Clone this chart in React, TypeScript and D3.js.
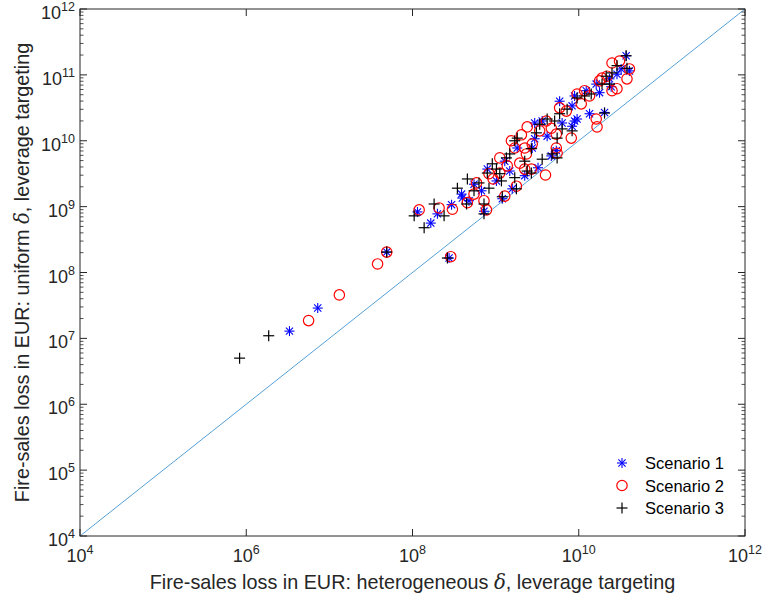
import React from "react";
import * as d3 from "d3";

// Scenario 1 (blue asterisks)
const s1X = [6.52, 6.86, 7.69, 8.44, 8.06, 8.22, 8.30, 8.47, 8.59, 8.60, 8.68, 8.74, 8.86, 8.90, 9.08, 9.17, 9.20, 9.26, 9.44, 9.47, 9.51, 9.47, 9.56, 9.80, 9.73, 9.67, 9.95, 9.98, 9.92, 9.92, 9.95, 10.09, 10.13, 10.31, 10.21, 10.37, 10.46, 10.39, 10.51, 10.57, 10.61, 10.25, 9.01, 9.35, 9.62, 9.11, 8.83, 9.77];
const s1Y = [7.11, 7.46, 8.31, 8.22, 8.92, 8.75, 8.89, 9.03, 9.19, 9.13, 9.09, 9.34, 8.93, 9.57, 9.12, 9.54, 9.27, 9.89, 9.89, 10.03, 9.59, 10.27, 10.30, 10.27, 9.85, 9.77, 10.30, 10.33, 10.53, 10.22, 10.68, 10.76, 10.41, 10.43, 10.86, 10.94, 11.01, 10.82, 11.09, 11.29, 11.06, 10.73, 9.39, 9.47, 10.07, 9.69, 9.24, 10.60];
// Scenario 2 (red circles)
const s2X = [6.75, 7.12, 7.58, 7.69, 8.46, 8.08, 8.32, 8.48, 8.66, 8.74, 8.77, 8.86, 8.89, 8.92, 9.05, 9.05, 9.11, 9.14, 9.25, 9.23, 9.31, 9.35, 9.37, 9.29, 9.35, 9.43, 9.44, 9.60, 9.61, 9.67, 9.73, 9.73, 9.74, 9.77, 9.91, 9.85, 9.98, 10.07, 10.13, 10.21, 10.22, 10.25, 10.28, 10.34, 10.40, 10.46, 10.40, 10.49, 10.61, 10.58, 9.38, 9.19, 8.97, 9.53, 10.03];
const s2Y = [7.27, 7.66, 8.13, 8.31, 8.24, 8.95, 8.98, 8.96, 9.06, 9.19, 9.36, 9.09, 8.95, 9.50, 9.74, 9.51, 9.16, 9.62, 9.31, 9.89, 10.09, 9.89, 9.80, 9.66, 9.57, 9.57, 9.95, 9.48, 10.30, 10.19, 10.10, 9.89, 9.81, 10.50, 10.04, 10.45, 10.71, 10.76, 10.68, 10.33, 10.21, 10.91, 10.95, 10.98, 10.76, 10.79, 11.18, 11.21, 11.09, 10.94, 10.21, 10.00, 9.42, 10.15, 10.56];
// Scenario 3 (black plus signs)
const s3X = [5.92, 6.27, 7.69, 8.42, 8.02, 8.14, 8.26, 8.38, 8.54, 8.66, 8.65, 8.80, 8.86, 8.86, 8.92, 8.90, 8.96, 9.05, 9.07, 9.08, 9.13, 9.17, 9.23, 9.25, 9.23, 9.26, 9.35, 9.38, 9.43, 9.49, 9.56, 9.53, 9.62, 9.71, 9.77, 9.74, 9.68, 9.74, 9.80, 9.92, 9.86, 9.98, 10.07, 10.15, 10.28, 10.33, 10.37, 10.40, 10.46, 10.58, 10.57, 10.31, 9.43, 9.01, 8.74];
const s3Y = [6.70, 7.04, 8.31, 8.22, 8.86, 8.68, 9.04, 8.86, 9.28, 9.42, 9.04, 9.36, 9.04, 8.89, 9.28, 9.51, 9.65, 9.50, 9.39, 9.15, 9.74, 9.80, 9.44, 9.27, 10.00, 10.04, 9.69, 9.54, 9.51, 10.12, 9.72, 10.25, 10.33, 10.30, 10.41, 10.04, 9.80, 9.74, 10.18, 10.15, 10.48, 10.65, 10.68, 10.71, 10.86, 10.98, 10.86, 11.03, 11.14, 11.10, 11.29, 10.42, 9.88, 9.57, 9.24];

const xTickExps = [4, 6, 8, 10, 12];
const yTickExps = [4, 5, 6, 7, 8, 9, 10, 11, 12];
const legendLabels = ["Scenario 1", "Scenario 2", "Scenario 3"];
const xLabel = "Fire-sales loss in EUR: heterogeneous ";
const xLabelTail = ", leverage targeting";
const yLabel = "Fire-sales loss in EUR: uniform ";
const yLabelTail = ", leverage targeting";

const W = 766, H = 603;
const L = 80, R = 745, T = 9, B = 536;
const FONT = "'Liberation Sans', Arial, Helvetica, sans-serif";
const AX = "#262626";

function Asterisk({ x, y, c }: { x: number; y: number; c: string }) {
  const r = 5, d = 3.6;
  return (
    <g stroke={c} strokeWidth={1.1}>
      <line x1={x - r} y1={y} x2={x + r} y2={y} />
      <line x1={x} y1={y - r} x2={x} y2={y + r} />
      <line x1={x - d} y1={y - d} x2={x + d} y2={y + d} />
      <line x1={x - d} y1={y + d} x2={x + d} y2={y - d} />
    </g>
  );
}
function Plus({ x, y, c }: { x: number; y: number; c: string }) {
  const r = 5.5;
  return (
    <g stroke={c} strokeWidth={1.2}>
      <line x1={x - r} y1={y} x2={x + r} y2={y} />
      <line x1={x} y1={y - r} x2={x} y2={y + r} />
    </g>
  );
}
function Circle({ x, y, c }: { x: number; y: number; c: string }) {
  return <circle cx={x} cy={y} r={5.2} fill="none" stroke={c} strokeWidth={1.2} />;
}

export default function App() {
  const xs = d3.scaleLog().domain([1e4, 1e12]).range([L, R]);
  const ys = d3.scaleLog().domain([1e4, 1e12]).range([B, T]);

  const minors: number[] = [];
  for (let e = 4; e < 12; e++) for (let m = 2; m <= 9; m++) minors.push(m * Math.pow(10, e));

  const series = [
    { X: s1X, Y: s1Y, c: "#0000ff", M: Asterisk },
    { X: s2X, Y: s2Y, c: "#ff0000", M: Circle },
    { X: s3X, Y: s3Y, c: "#000000", M: Plus },
  ];

  return (
    <svg width={W} height={H} style={{ position: "absolute", left: 0, top: 0, background: "#fff" }} fontFamily={FONT}>
      <rect x={0} y={0} width={W} height={H} fill="#fff" />
      <line x1={xs(1e4)} y1={ys(1e4)} x2={xs(1e12)} y2={ys(1e12)} stroke="#2a88cc" strokeWidth={0.8} />
      {series.map((s, si) => (
        <g key={si}>
          {s.X.map((v, i) => (
            <s.M key={i} x={xs(Math.pow(10, v))} y={ys(Math.pow(10, s.Y[i]))} c={s.c} />
          ))}
        </g>
      ))}
      <rect x={L} y={T} width={R - L} height={B - T} fill="none" stroke={AX} strokeWidth={1} />
      {yTickExps.map((e) => {
        const y = ys(Math.pow(10, e));
        return (
          <g key={"y" + e}>
            <line x1={L} x2={L + 7} y1={y} y2={y} stroke={AX} />
            <line x1={R} x2={R - 7} y1={y} y2={y} stroke={AX} />
            <text x={75} y={y + 10} textAnchor="end" fontSize={18} fill={AX}>
              10<tspan dy={-8} fontSize={12.5}>{e}</tspan>
            </text>
          </g>
        );
      })}
      {minors.map((v, i) => {
        const y = ys(v);
        return (
          <g key={"m" + i}>
            <line x1={L} x2={L + 3.5} y1={y} y2={y} stroke={AX} strokeWidth={0.8} />
            <line x1={R} x2={R - 3.5} y1={y} y2={y} stroke={AX} strokeWidth={0.8} />
          </g>
        );
      })}
      {xTickExps.map((e) => {
        const x = xs(Math.pow(10, e));
        return (
          <g key={"x" + e}>
            <line x1={x} x2={x} y1={B} y2={B - 7} stroke={AX} />
            <line x1={x} x2={x} y1={T} y2={T + 7} stroke={AX} />
            <text x={x} y={562} textAnchor="middle" fontSize={18} fill={AX}>
              10<tspan dy={-8} fontSize={12.5}>{e}</tspan>
            </text>
          </g>
        );
      })}
      <text x={(L + R) / 2} y={589} textAnchor="middle" fontSize={19.8} fill={AX}>
        {xLabel}<tspan fontStyle="italic" fontFamily="'DejaVu Serif', 'Liberation Serif', serif">δ</tspan>{xLabelTail}
      </text>
      <text transform={`translate(29,${(T + B) / 2}) rotate(-90)`} textAnchor="middle" fontSize={19.8} fill={AX}>
        {yLabel}<tspan fontStyle="italic" fontFamily="'DejaVu Serif', 'Liberation Serif', serif">δ</tspan>{yLabelTail}
      </text>
      {legendLabels.map((lab, i) => {
        const y = 463 + i * 22.5;
        const s = series[i];
        return (
          <g key={lab}>
            <s.M x={622} y={y} c={s.c} />
            <text x={645} y={y + 6} fontSize={16.5} fill="#000">{lab}</text>
          </g>
        );
      })}
    </svg>
  );
}
